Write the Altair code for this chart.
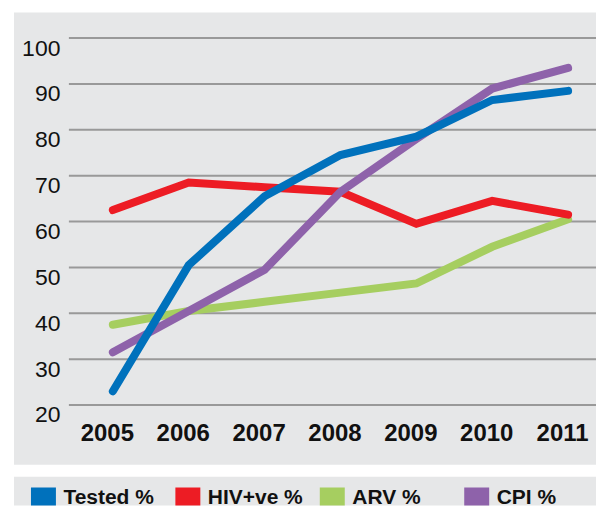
import altair as alt
import pandas as pd

years = [2005, 2006, 2007, 2008, 2009, 2010, 2011]
tested = [23, 50.5, 65.5, 74.5, 78.5, 86.5, 88.5]
hiv = [62.5, 68.5, 67.5, 66.5, 59.5, 64.5, 61.5]
arv = [37.5, 40.5, 42.5, 44.5, 46.5, 54.5, 60.5]
cpi = [31.5, 40.5, 49.5, 66.5, 78, 89, 93.5]
series = ["Tested %", "HIV+ve %", "ARV %", "CPI %"]
colors = ["#0071bc", "#ed1c24", "#a6ce60", "#8e62aa"]
draw_order = ["ARV %", "HIV+ve %", "CPI %", "Tested %"]
y_ticks = [20, 30, 40, 50, 60, 70, 80, 90, 100]

rows = []
for name, vals in zip(series, [tested, hiv, arv, cpi]):
    for yr, v in zip(years, vals):
        rows.append({"year": yr, "series": name, "value": v})
df = pd.DataFrame(rows)

FONT = "Liberation Sans"
W, H = 583, 453
xscale = alt.Scale(domain=[2003.697, 2011.368], nice=False, zero=False)
yscale = alt.Scale(domain=[7.0, 105.6], nice=False, zero=False)
color = alt.Color("series:N", scale=alt.Scale(domain=series, range=colors), legend=None)

yaxis = alt.Axis(values=y_ticks, title=None, ticks=False, tickSize=0, domain=False, grid=False,
                 labelPadding=0, offset=-46, labelFont=FONT, labelFontSize=23,
                 labelColor="#111111", labelBaseline="top", labelAlign="right",
                 labelOffset=-1, labelOverlap=False)
xaxis = alt.Axis(values=years, format="d", title=None, ticks=False, tickSize=0, domain=False,
                 grid=False, labelPadding=0, offset=-43, labelOffset=-6, labelFlush=False,
                 labelOverlap=False, labelFont=FONT, labelFontSize=24, labelFontWeight="bold",
                 labelColor="#111111")

grid = alt.Chart(pd.DataFrame({"v": y_ticks})).mark_rule(color="#999999", strokeWidth=2).encode(
    y=alt.Y("v:Q", scale=yscale, axis=yaxis),
    x=alt.value(55),
    x2=alt.value(W),
)

layers = [grid]
for s in draw_order:
    layers.append(
        alt.Chart(df).transform_filter(alt.datum.series == s)
        .mark_line(strokeWidth=8, strokeCap="round")
        .encode(
            x=alt.X("year:Q", scale=xscale, axis=xaxis),
            y=alt.Y("value:Q", scale=yscale),
            color=color,
        )
    )

top = alt.layer(*layers).properties(width=W, height=H)

leg_df = pd.DataFrame({"series": series})
lx = alt.X("series:N", sort=series, scale=alt.Scale(type="point", range=[29.5, 463.5], padding=0), axis=None)
squares = alt.Chart(leg_df).mark_square(size=625, opacity=1, clip=True).encode(
    x=lx, y=alt.value(23.5), color=color
)
labels = alt.Chart(leg_df).mark_text(align="left", baseline="alphabetic", dx=20, font=FONT,
                                     fontSize=21, fontWeight="bold", color="#111111").encode(
    x=lx, y=alt.value(27), text="series:N"
)
bottom = alt.layer(squares, labels).properties(width=W, height=29)

chart = alt.vconcat(top, bottom, spacing=12).properties(
    padding={"left": 6, "top": 4, "right": 0, "bottom": 0},
    background="white",
).configure_view(fill="#e6e7e8", strokeWidth=0)

chart.save("out.html", embed_options={"renderer": "svg", "actions": False})
